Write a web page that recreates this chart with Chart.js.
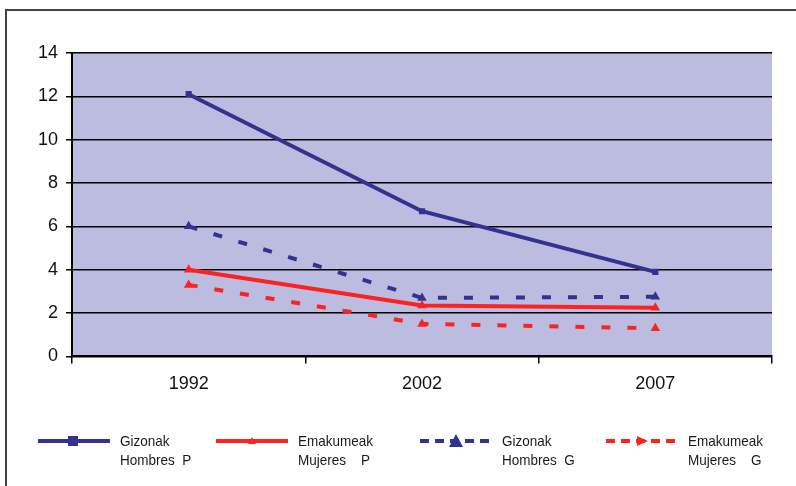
<!DOCTYPE html>
<html lang="eu">
<head>
<meta charset="UTF-8">
<title>Gizonak / Emakumeak</title>
<script src="https://cdn.jsdelivr.net/npm/chart.js"></script>
<style>
  body { margin: 0; background: #fff; }
  .wrap { position: relative; width: 796px; height: 486px; }
  .frame { position: absolute; left: 5px; top: 9px; width: 800px; height: 490px;
           border-left: 2px solid #444; border-top: 2px solid #444; }
  #chart { position: absolute; left: 0; top: 0; }
  .legend { position: absolute; top: 431px; left: 0; width: 796px;
            font-family: "Liberation Sans Narrow", "Liberation Sans", Arial, sans-serif;
            font-size: 15px; color: #1a1a1a; }
  .item { position: absolute; top: 0; }
  .item canvas { position: absolute; top: 3px; }
  .item span { position: absolute; line-height: 19px; white-space: pre;
               transform: scaleX(0.9); transform-origin: left top; }
</style>
</head>
<body>
<div class="wrap">
  <div class="frame"></div>
  <canvas id="chart" width="796" height="486"></canvas>
  <div class="legend" id="legend"></div>
</div>
<script>
// datuak
const years = ['1992', '2002', '2007'];
const gizonakP = [12.1, 6.7, 3.9];
const emakumeakP = [4.0, 2.35, 2.25];
const gizonakG = [6.0, 2.7, 2.75];
const emakumeakG = [3.3, 1.5, 1.3];
const seriesNames = [['Gizonak', 'Hombres  P'], ['Emakumeak', 'Mujeres    P'],
                     ['Gizonak', 'Hombres  G'], ['Emakumeak', 'Mujeres    G']];

const navy = '#343290';
const red = '#fb2321';

// plot area background
const plotBg = {
  id: 'plotBg',
  beforeDraw(chart) {
    const a = chart.chartArea, c = chart.ctx;
    c.save();
    c.fillStyle = '#bcbce0';
    c.fillRect(a.left, a.top, a.right - a.left, a.bottom - a.top);
    c.restore();
  }
};

const styles = [
  { color: navy, dash: [], point: 'rect' },
  { color: red, dash: [], point: 'triangle' },
  { color: navy, dash: [9, 17], point: 'triangle' },
  { color: red, dash: [9, 17], point: 'triangle' }
];
const values = [gizonakP, emakumeakP, gizonakG, emakumeakG];

const chart = new Chart(document.getElementById('chart'), {
  type: 'line',
  data: {
    labels: years,
    datasets: values.map((v, i) => ({
      label: seriesNames[i].join(' '),
      data: v,
      borderColor: styles[i].color,
      backgroundColor: styles[i].color,
      borderWidth: 4,
      borderDash: styles[i].dash,
      pointStyle: styles[i].point,
      pointRadius: 1.5,
      tension: 0
    }))
  },
  options: {
    responsive: false,
    animation: false,
    layout: { padding: { left: 20, right: 24, top: 53, bottom: 81 } },
    plugins: { legend: { display: false }, tooltip: { enabled: false } },
    scales: {
      x: {
        offset: true,
        grid: { offset: true, drawOnChartArea: false, color: '#000', tickLength: 7, lineWidth: 1.5 },
        border: { color: '#000', width: 2 },
        ticks: { color: '#111', font: { family: 'Liberation Sans, Arial', size: 18 }, padding: 10 }
      },
      y: {
        min: 0, max: 14,
        afterFit(s) { s.width = 52; },
        grid: { color: '#000', lineWidth: 1.5, tickLength: 6 },
        border: { color: '#000', width: 2 },
        ticks: { stepSize: 2, color: '#111', font: { family: 'Liberation Sans, Arial', size: 18 }, padding: 8 }
      }
    }
  },
  plugins: [plotBg]
});

// legend (HTML, two-line labels)
const legendX = [38, 216, 420, 606];
const legend = document.getElementById('legend');
seriesNames.forEach((name, i) => {
  const item = document.createElement('div');
  item.className = 'item';
  item.style.left = legendX[i] + 'px';
  const cv = document.createElement('canvas');
  cv.width = 72; cv.height = 14;
  const c = cv.getContext('2d');
  c.strokeStyle = styles[i].color;
  c.fillStyle = styles[i].color;
  c.lineWidth = 4;
  c.setLineDash(styles[i].dash.length ? [9, 6] : []);
  c.beginPath(); c.moveTo(0, 7); c.lineTo(72, 7); c.stroke();
  if (styles[i].point === 'rect') c.fillRect(30, 2, 10, 10);
  else if (i === 1) { c.beginPath(); c.moveTo(36, 3); c.lineTo(40, 10); c.lineTo(32, 10); c.fill(); }
  else if (i === 2) { c.beginPath(); c.moveTo(36, 0); c.lineTo(43, 13); c.lineTo(29, 13); c.fill(); }
  else { c.beginPath(); c.moveTo(31, 2); c.lineTo(42, 7); c.lineTo(31, 12); c.fill(); }
  item.appendChild(cv);
  const t = document.createElement('span');
  t.style.left = '82px';
  t.style.top = '0px';
  t.textContent = name[0] + '\n' + name[1];
  item.appendChild(t);
  legend.appendChild(item);
});
</script>
</body>
</html>
